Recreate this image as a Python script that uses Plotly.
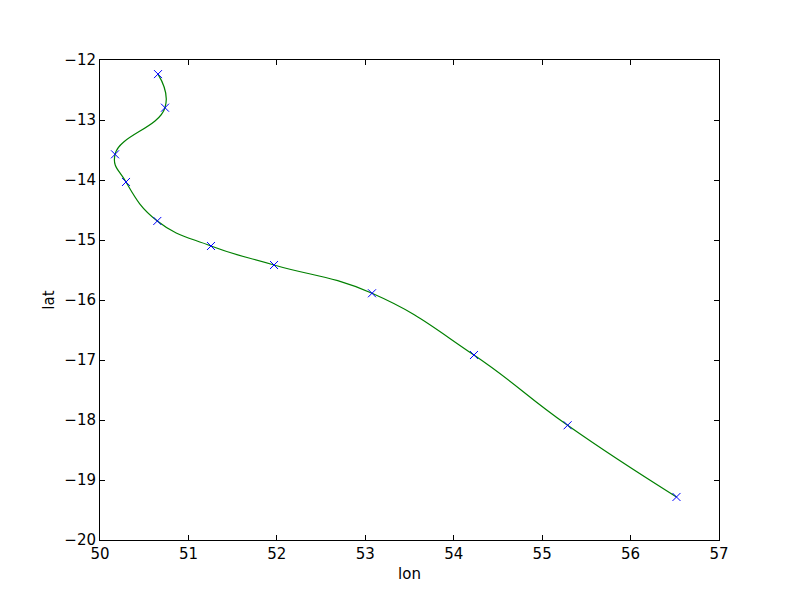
import plotly.graph_objects as go

lon = [50.656, 50.735, 50.170, 50.294, 50.648, 51.255, 51.968, 53.076, 54.229, 55.288, 56.519]
lat = [-12.235, -12.795, -13.572, -14.033, -14.683, -15.100, -15.417, -15.888, -16.917, -18.088, -19.283]

x_ticks = [50, 51, 52, 53, 54, 55, 56, 57]
y_ticks = [-12, -13, -14, -15, -16, -17, -18, -19, -20]

fig = go.Figure()
fig.add_trace(go.Scatter(
    x=lon, y=lat, mode="lines",
    line=dict(color="#008000", width=1.2, shape="spline", smoothing=1.3),
    hoverinfo="skip", showlegend=False,
))
fig.add_trace(go.Scatter(
    x=lon, y=lat, mode="markers",
    marker=dict(symbol="x-thin", size=8, line=dict(color="#0000ff", width=1)),
    showlegend=False,
))

axis_common = dict(
    showgrid=False, zeroline=False, showline=True, linecolor="black", linewidth=1,
    mirror="allticks", ticks="inside", ticklen=5, tickwidth=1, tickcolor="black",
    tickfont=dict(family="DejaVu Sans", size=15, color="black"), automargin=False,
)
fig.update_xaxes(range=[50, 57], tickvals=x_ticks, title=dict(text="lon", font=dict(family="DejaVu Sans", size=15, color="black"), standoff=6), **axis_common)
fig.update_yaxes(range=[-20, -12], tickvals=y_ticks, title=dict(text="lat", font=dict(family="DejaVu Sans", size=15, color="black"), standoff=6), **axis_common)

fig.update_layout(
    width=800, height=600,
    margin=dict(l=92, r=89, t=52, b=68),
    paper_bgcolor="white", plot_bgcolor="white",
    font=dict(family="DejaVu Sans"),
)
fig.write_html("out.html")
